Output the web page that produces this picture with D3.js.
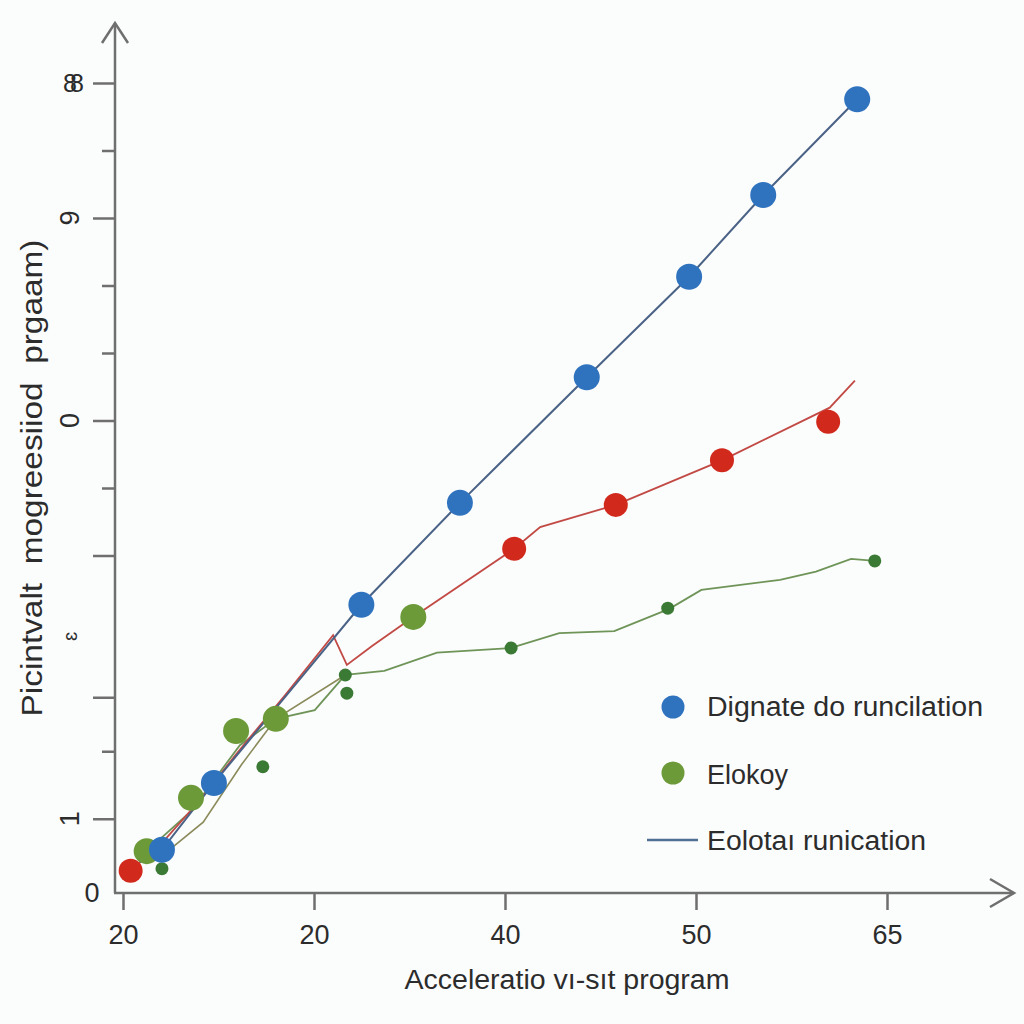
<!DOCTYPE html>
<html>
<head>
<meta charset="utf-8">
<script src="https://cdn.jsdelivr.net/npm/d3@7"></script>
<style>
  html, body { margin: 0; padding: 0; background: #fbfcfc; }
  svg { display: block; }
  text { font-family: "Liberation Sans", Arial, "DejaVu Sans", sans-serif; fill: #2c2c2c; }
</style>
</head>
<body>
<svg id="chart" width="1024" height="1024"></svg>
<script>
// ---------------- data ----------------
const xTickValues = [0, 25, 50, 75, 100];
const xTickLabels = ["20", "20", "40", "50", "65"];
const yTickValues = [1.1, 2.1, 2.9, 5, 6, 7, 8, 9, 10, 11, 12];
const yLongTicks = [1.1, 2.9, 5, 7, 10, 12];
const yTickLabelValues = [0, 1.1, 3.8, 7, 10, 12];
const yTickLabels = ["0", "1", "ɛ", "0", "9", "88"];

const xTitle = "Acceleratio vı-sıt program";
const yTitle = "Picintvalt  mogreesiiod  prgaam)";

const seriesNames = ["Dignate do runcilation", "Elokoy", "Eolotaı runication"];

// Blue series
const blueX = [5.1, 11.9, 31.2, 44.1, 60.7, 74.1, 83.8, 96.1];
const blueY = [0.64, 1.63, 4.27, 5.78, 7.64, 9.13, 10.34, 11.76];
const blueLineX = [2.2, 5.1, 11.9, 31.2, 44.1, 60.7, 74.1, 83.8, 96.1];
const blueLineY = [0.46, 0.64, 1.63, 4.27, 5.78, 7.64, 9.13, 10.34, 11.76];

// Red series
const redX = [1.0, 51.2, 64.5, 78.4, 92.3];
const redY = [0.33, 5.10, 5.75, 6.41, 6.98];
const redLineX = [1.0, 5.5, 10.1, 14.7, 21.2, 27.5, 29.3, 32.6, 38.0, 51.2, 54.6, 64.5, 78.4, 92.5, 95.8];
const redLineY = [0.33, 0.79, 1.38, 2.04, 2.93, 3.82, 3.38, 3.66, 4.09, 5.10, 5.42, 5.75, 6.41, 7.19, 7.59];

// Green series (large light points and small dark points)
const greenBigX = [3.1, 8.9, 14.8, 20.0, 38.0];
const greenBigY = [0.62, 1.41, 2.40, 2.58, 4.09];
const greenSmallX = [5.1, 18.3, 29.1, 29.3, 50.8, 71.3, 98.4];
const greenSmallY = [0.36, 1.87, 3.23, 2.96, 3.63, 4.22, 4.92];
const greenLineX = [3.1, 8.8, 15.3, 20.0, 25.1, 29.1, 34.2, 41.1, 50.8, 57.1, 64.3, 71.5, 75.7, 86.0, 90.7, 95.3, 98.4];
const greenLineY = [0.62, 1.2, 2.19, 2.58, 2.71, 3.23, 3.29, 3.56, 3.63, 3.85, 3.88, 4.21, 4.49, 4.64, 4.76, 4.95, 4.92];
// extra olive connector segments in the lower bundle
const oliveLineX = [5.1, 10.5, 15.5, 20.0, 29.1];
const oliveLineY = [0.55, 1.05, 1.9, 2.58, 3.23];

// ---------------- drawing ----------------
const svg = d3.select("#chart");
const axisColor = "#6f6f6f";

const x = d3.scaleLinear().domain([0, 100]).range([123, 887]);
const y = d3.scaleLinear().domain([0, 12]).range([893, 83]);
const x0 = 115, y0 = 893;

// axes lines with arrows
svg.append("line").attr("x1", x0).attr("y1", y0).attr("x2", x0).attr("y2", 23)
  .attr("stroke", axisColor).attr("stroke-width", 2.5);
svg.append("path").attr("d", `M${x0 - 13},43 L${x0},23 L${x0 + 13},43`)
  .attr("fill", "none").attr("stroke", axisColor).attr("stroke-width", 2.5);
svg.append("line").attr("x1", x0 - 1).attr("y1", y0).attr("x2", 1014).attr("y2", y0)
  .attr("stroke", axisColor).attr("stroke-width", 2.5);
svg.append("path").attr("d", `M990,879 L1014,${y0} L990,907`)
  .attr("fill", "none").attr("stroke", axisColor).attr("stroke-width", 2.5);

// x axis ticks
const xAxis = d3.axisBottom(x).tickValues(xTickValues).tickSize(17)
  .tickFormat((d, i) => xTickLabels[i]);
const gx = svg.append("g").attr("transform", `translate(0,${y0})`).call(xAxis);
gx.select(".domain").remove();
gx.selectAll(".tick line").attr("stroke", axisColor).attr("stroke-width", 2.5);
gx.selectAll(".tick text").attr("font-size", 27).attr("dy", 0).attr("y", 51)
  .attr("fill", "#2c2c2c").style("font-family", '"Liberation Sans", Arial, sans-serif');

// y axis ticks
const yAxis = d3.axisLeft(y).tickValues(yTickValues).tickSize(22).tickFormat("");
const gy = svg.append("g").attr("transform", `translate(${x0},0)`).call(yAxis);
gy.select(".domain").remove();
gy.selectAll(".tick line").attr("stroke", axisColor).attr("stroke-width", 2.5)
  .attr("x2", d => yLongTicks.includes(d) ? -22 : -13);

// y tick labels (rotated like the reference)
yTickLabelValues.forEach((v, i) => {
  const lbl = yTickLabels[i];
  let px = 70, rot = -90, fs = 27;
  if (i === 0) { px = 92; rot = 0; }
  if (lbl === "ɛ") { fs = 20; }
  if (lbl === "88") { rot = 0; fs = 25; px = 67; }
  const t = svg.append("text")
    .attr("transform", `translate(${px},${y(v)}) rotate(${rot})`)
    .attr("text-anchor", "middle").attr("dy", "0.35em")
    .attr("font-size", fs)
    .text(lbl);
  if (lbl === "88") t.attr("letter-spacing", -7).attr("dx", 3);
});

// axis titles
svg.append("text").attr("x", 567).attr("y", 989).attr("text-anchor", "middle")
  .attr("font-size", 27).attr("textLength", 325).attr("lengthAdjust", "spacingAndGlyphs")
  .text(xTitle);
svg.append("text").attr("transform", "translate(42,478) rotate(-90)")
  .attr("text-anchor", "middle").attr("font-size", 29)
  .attr("textLength", 477).attr("lengthAdjust", "spacingAndGlyphs")
  .style("white-space", "pre")
  .text(yTitle);

// lines
const line = d3.line().x(d => x(d[0])).y(d => y(d[1]));
const zip = (a, b) => a.map((v, i) => [v, b[i]]);

svg.append("path").datum(zip(oliveLineX, oliveLineY)).attr("d", line)
  .attr("fill", "none").attr("stroke", "#8a8a5a").attr("stroke-width", 1.6);
svg.append("path").datum(zip(greenLineX, greenLineY)).attr("d", line)
  .attr("fill", "none").attr("stroke", "#6f9458").attr("stroke-width", 1.8);
svg.append("path").datum(zip(redLineX, redLineY)).attr("d", line)
  .attr("fill", "none").attr("stroke", "#c24a45").attr("stroke-width", 1.8);
svg.append("path").datum(zip(blueLineX, blueLineY)).attr("d", line)
  .attr("fill", "none").attr("stroke", "#4a6286").attr("stroke-width", 2);

// points
function dots(xs, ys, r, color) {
  svg.append("g").selectAll("circle").data(zip(xs, ys)).join("circle")
    .attr("cx", d => x(d[0])).attr("cy", d => y(d[1])).attr("r", r)
    .attr("fill", color);
}
dots(greenSmallX, greenSmallY, 6.5, "#3b7a35");
dots(redX, redY, 12, "#d12a1d");
dots(greenBigX, greenBigY, 13, "#6c9a39");
dots(blueX, blueY, 13, "#2f73bf");

// legend
const lg = svg.append("g");
lg.append("circle").attr("cx", 673).attr("cy", 707).attr("r", 11.5).attr("fill", "#2f73bf");
lg.append("text").attr("x", 707).attr("y", 707).attr("dy", "0.35em").attr("font-size", 27)
  .attr("textLength", 276).attr("lengthAdjust", "spacingAndGlyphs").text(seriesNames[0]);
lg.append("circle").attr("cx", 673).attr("cy", 773).attr("r", 11.5).attr("fill", "#6c9a39");
lg.append("text").attr("x", 707).attr("y", 775).attr("dy", "0.35em").attr("font-size", 27)
  .text(seriesNames[1]);
lg.append("line").attr("x1", 647).attr("x2", 698).attr("y1", 840).attr("y2", 840)
  .attr("stroke", "#4f6f95").attr("stroke-width", 2.5);
lg.append("text").attr("x", 707).attr("y", 841).attr("dy", "0.35em").attr("font-size", 27)
  .attr("textLength", 219).attr("lengthAdjust", "spacingAndGlyphs").text(seriesNames[2]);
</script>
</body>
</html>
